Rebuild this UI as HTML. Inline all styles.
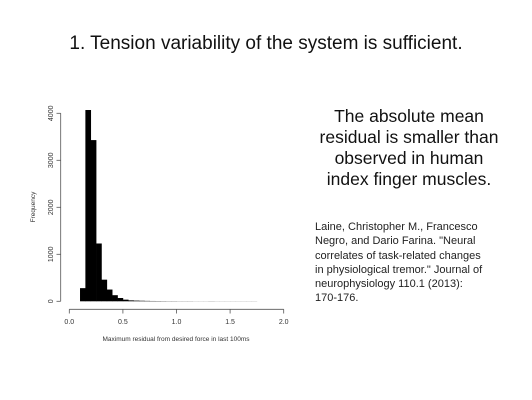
<!DOCTYPE html>
<html><head><meta charset="utf-8">
<style>
html,body{margin:0;padding:0;background:#fff;}
body{width:532px;height:400px;position:relative;overflow:hidden;font-family:"Liberation Sans",sans-serif;color:#111;}
#title{position:absolute;left:0;width:532px;top:33px;text-align:center;font-size:19px;}
#claim{position:absolute;left:300px;width:218px;top:106px;text-align:center;font-size:17.5px;line-height:21px;white-space:nowrap;}
#cite{position:absolute;left:315px;width:215px;top:220px;font-size:11px;line-height:14.3px;color:#222;white-space:nowrap;}
svg{position:absolute;left:0;top:0;}
</style></head><body>
<div id="title">1. Tension variability of the system is sufficient.</div>
<div id="claim">The absolute mean<br>residual is smaller than<br>observed in human<br>index finger muscles.</div>
<div id="cite">Laine, Christopher M., Francesco<br>Negro, and Dario Farina. "Neural<br>correlates of task-related changes<br>in physiological tremor." Journal of<br>neurophysiology 110.1 (2013):<br>170-176.</div>
<svg id="chart" width="532" height="400"></svg>
<script>
const binStarts=[0.10,0.15,0.20,0.25,0.30,0.35,0.40,0.45,0.50,0.55,0.60,0.65,0.70,0.75,0.80,0.85,0.90,0.95,1.00,1.05,1.10,1.15,1.20,1.25,1.30,1.35,1.40,1.45,1.50,1.55,1.60,1.65,1.70];
const counts=[280,4070,3430,1230,460,250,130,70,35,20,15,12,9,7,6,5,4,4,3,3,3,2,2,2,3,2,2,2,2,2,2,2,2];
const xTicks=[0,0.5,1.0,1.5,2.0];
const xTickLabels=["0.0","0.5","1.0","1.5","2.0"];
const yTicks=[0,1000,2000,3000,4000];
const yTickLabels=["0","1000","2000","3000","4000"];
const binWidth=0.05;
const NS="http://www.w3.org/2000/svg";
const svg=document.getElementById('chart');
const X=v=>69.3+v*107.2;
const Y=v=>301.3-v*188/4000;
function mk(t,a){const e=document.createElementNS(NS,t);for(const k in a)e.setAttribute(k,a[k]);svg.appendChild(e);return e;}
binStarts.forEach((b,i)=>{
 const r=mk('rect',{x:X(b),y:Y(counts[i]),width:X(b+binWidth)-X(b)+0.3,height:Y(0)-Y(counts[i]),fill:'#000'});
 
 
});
const xa=mk('line',{x1:X(0),x2:X(2),y1:309.3,y2:309.3,stroke:'#555','stroke-width':0.8});


xTicks.forEach((t,i)=>{
 mk('line',{x1:X(t),x2:X(t),y1:309.3,y2:313.5,stroke:'#555','stroke-width':0.8});
 const tx=mk('text',{x:X(t),y:324,'font-size':7,'text-anchor':'middle',fill:'#333','font-family':'Liberation Sans, sans-serif'});
 tx.textContent=xTickLabels[i];
 
 
});
const ya=mk('line',{x1:60.7,x2:60.7,y1:Y(0),y2:Y(4000),stroke:'#555','stroke-width':0.8});


yTicks.forEach((t,i)=>{
 mk('line',{x1:56.5,x2:60.7,y1:Y(t),y2:Y(t),stroke:'#555','stroke-width':0.8});
 const tx=mk('text',{x:53,y:Y(t),'font-size':7,'text-anchor':'middle',fill:'#333','font-family':'Liberation Sans, sans-serif',transform:`rotate(-90 53 ${Y(t)})`});
 tx.textContent=yTickLabels[i];
 
 
});
const xt=mk('text',{x:176,y:341,'font-size':6.5,'text-anchor':'middle',fill:'#333','font-family':'Liberation Sans, sans-serif'});
xt.textContent='Maximum residual from desired force in last 100ms';


const yt=mk('text',{x:35,y:207,'font-size':6.5,'text-anchor':'middle',fill:'#333','font-family':'Liberation Sans, sans-serif',transform:'rotate(-90 35 207)'});
yt.textContent='Frequency';


</script>
</body></html>
